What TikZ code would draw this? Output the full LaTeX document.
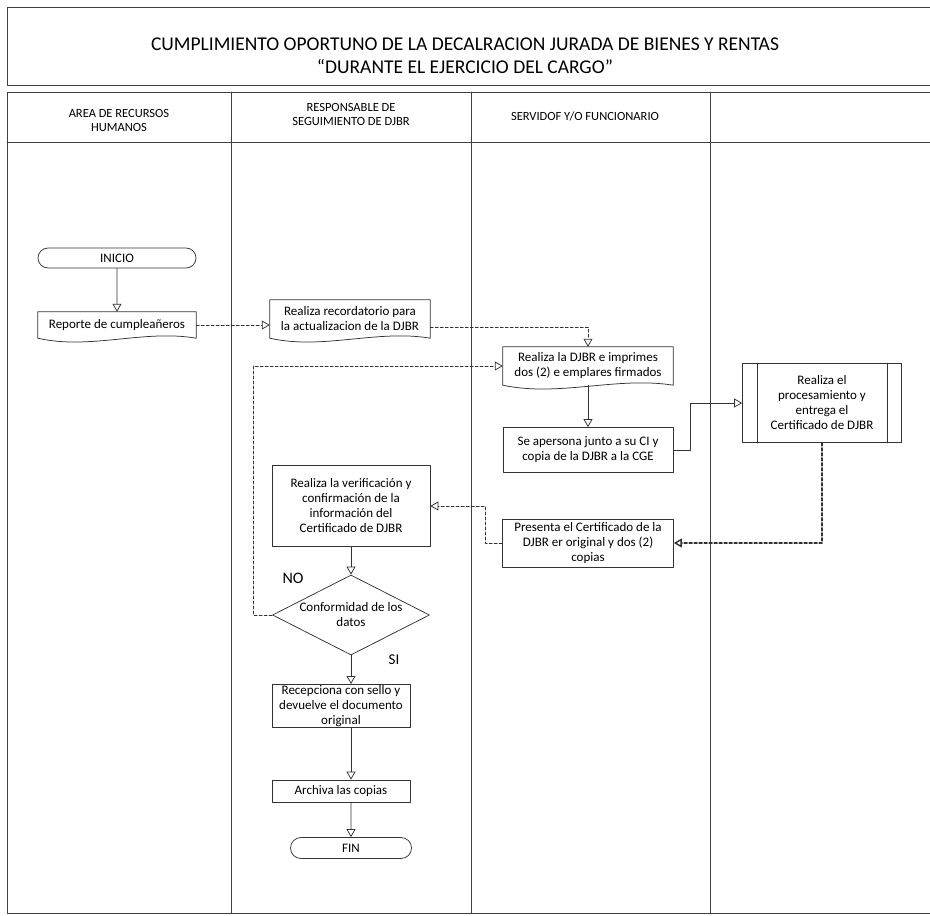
\documentclass[tikz,border=0pt]{standalone}
\usepackage{fontspec}
\setmainfont{Carlito}
\usetikzlibrary{arrows.meta,shapes.geometric,shapes.misc,calc}

% contorno de documento (borde inferior ondulado)
\newcommand{\docshape}[1]{%
  \draw[lin] (#1.south east) -- (#1.north east) -- (#1.north west) -- (#1.south west)
    .. controls ([yshift=-12pt]$(#1.south west)!0.33!(#1.south east)$)
       and ([yshift=9pt]$(#1.south west)!0.67!(#1.south east)$) .. (#1.south east);}

\begin{document}
\begin{tikzpicture}[x=1pt,y=-1pt, line join=round, line cap=round,
  font=\fontsize{13}{15}\selectfont,
  lin/.style={draw=black!80, line width=0.75pt},
  lane/.style={draw=black!75, line width=0.8pt},
  sz/.style 2 args={minimum width=#1pt, minimum height=#2pt},
  caja/.style={lin, align=center, inner sep=1pt},
  doc/.style={align=center, inner sep=1pt},
  term/.style={caja, rounded rectangle},
  rombo/.style={lin, diamond, inner sep=0pt},
  hdr/.style={align=center, font=\fontsize{12.5}{14}\selectfont},
  flw/.style={lin, -{Triangle[open,length=8pt,width=9pt]}},
  xln/.style={flw, densely dashed}]
\useasboundingbox (0,0) rectangle (930,916);
% marco y carriles
\draw[lane] (930,7) -- (7,7) -- (7,85) -- (930,85);
\draw[lane] (930,92) -- (7,92) -- (7,913) -- (930,913);
\draw[lane] (7,142) -- (930,142);
\foreach \x in {231,471,710} \draw[lane] (\x,92) -- (\x,913);
\node[align=center, font=\fontsize{19.5}{23}\selectfont] (tit) at (465,56)
  {CUMPLIMIENTO OPORTUNO DE LA DECALRACION JURADA DE BIENES Y RENTAS\\“DURANTE EL EJERCICIO DEL CARGO”};
\node[hdr] (hrh) at (119,120) {AREA DE RECURSOS\\HUMANOS};
\node[hdr] (hrs) at (351,114) {RESPONSABLE DE\\SEGUIMIENTO DE DJBR};
\node[hdr] (hsf) at (585,116) {SERVIDOF Y/O FUNCIONARIO};
% pasos
\node[term, sz={160}{20}] (ini) at (117,258) {INICIO};
\node[doc, sz={158}{26}] (rep) at (117,325) {Reporte de cumpleañeros};
\docshape{rep}
\node[doc, sz={160}{38}] (rec) at (350,319) {Realiza recordatorio para\\la actualizacion de la DJBR};
\docshape{rec}
\node[doc, sz={170}{38}] (djb) at (588,366) {Realiza la DJBR e imprimes\\dos (2) e emplares firmados};
\docshape{djb}
\node[caja, sz={170}{45}] (ape) at (588,450) {Se apersona junto a su CI y\\copia de la DJBR a la CGE};
\node[caja, sz={159}{79}] (prc) at (822,403) {Realiza el\\procesamiento y\\entrega el\\Certificado de DJBR};
\draw[lin] ([xshift=15pt]prc.north west) -- ([xshift=15pt]prc.south west)
           ([xshift=-15pt]prc.north east) -- ([xshift=-15pt]prc.south east);
\node[caja, sz={171}{48}] (pre) at (588,543) {Presenta el Certificado de la\\DJBR er original y dos (2)\\copias};
\node[caja, sz={158}{81}] (ver) at (351,506) {Realiza la verificación y\\confirmación de la\\información del\\Certificado de DJBR};
\node[rombo, sz={157}{80}] (conf) at (351,615) {};
\node[align=center] (conft) at (conf) {Conformidad de los\\datos};
\node[caja, sz={138}{43}] (rcp) at (341,706) {Recepciona con sello y\\devuelve el documento\\original};
\node[caja, sz={138}{22}] (arc) at (341,791) {Archiva las copias};
\node[term, sz={123}{21}] (fin) at (351,848) {FIN};
\node[font=\fontsize{16}{18}\selectfont] (no) at (293,578) {NO};
\node[font=\fontsize{15}{18}\selectfont] (si) at (394,660) {SI};
% conectores
\draw[flw] (ini) -- (rep);
\draw[xln] (rep.east) -- (rep.east -| rec.west);
\draw[xln] ([yshift=-8pt]rec.east) -| (djb.north);
\draw[flw] (djb.south) -- (ape.north);
\draw[flw] (ape.east) -- ++(17,0) |- (prc.west);
\draw[xln, line width=1.4pt] (prc.south) |- (pre.east);
\draw[xln] (pre.west) -- ++(-17,0) |- (ver.east);
\draw[flw] (ver) -- (conf);
\draw[xln] (conf.west) -- ++(-19,0) |- (djb.west);
\draw[flw] (conf.south) -- (conf.south |- rcp.north);
\draw[flw] (rcp.south -| conf.south) -- (arc.north -| conf.south);
\draw[flw] (arc.south -| conf.south) -- (fin);
\end{tikzpicture}
\end{document}
